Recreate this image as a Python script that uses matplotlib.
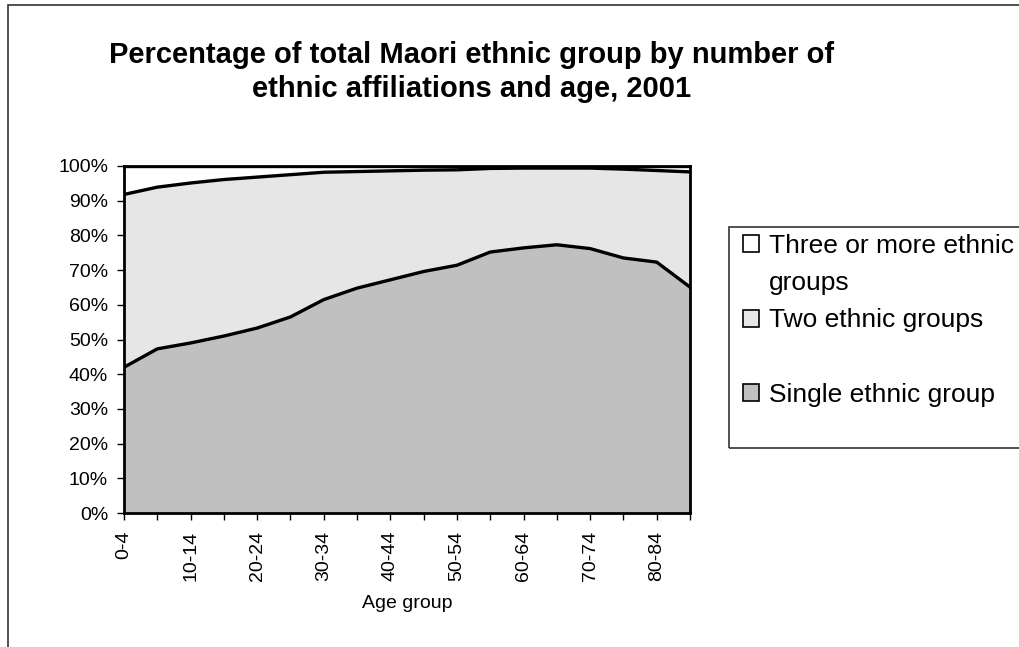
import matplotlib
matplotlib.use("Agg")
import matplotlib.pyplot as plt
from matplotlib.patches import Patch, Rectangle
from matplotlib.ticker import PercentFormatter
import numpy as np

plt.rcParams["font.family"] = ["Liberation Sans", "DejaVu Sans"]

age_groups = ["0-4", "5-9", "10-14", "15-19", "20-24", "25-29", "30-34", "35-39", "40-44",
              "45-49", "50-54", "55-59", "60-64", "65-69", "70-74", "75-79", "80-84", "85+"]
single = [42.0, 47.3, 49.0, 51.0, 53.3, 56.5, 61.5, 64.8, 67.2,
          69.6, 71.4, 75.2, 76.4, 77.3, 76.2, 73.5, 72.3, 65.1]
two = [49.8, 46.6, 46.1, 45.1, 43.5, 41.0, 36.7, 33.6, 31.4,
       29.2, 27.5, 24.1, 23.0, 22.1, 23.2, 25.6, 26.4, 33.2]
three = [8.2, 6.1, 4.9, 3.9, 3.2, 2.5, 1.8, 1.6, 1.4,
         1.2, 1.1, 0.7, 0.6, 0.6, 0.6, 0.9, 1.3, 1.7]
series_names = ["Three or more ethnic groups", "Two ethnic groups", "Single ethnic group"]

W, H = 1020, 647
fig = plt.figure(figsize=(W / 100, H / 100), dpi=100)
ax = fig.add_axes([124 / W, 1 - 513 / H, (690 - 124) / W, (513 - 166) / H])

x = np.arange(len(age_groups))
c1 = np.array(single)
c2 = c1 + np.array(two)
c3 = c2 + np.array(three)

col_single = "#c0c0c0"
col_two = "#e6e6e6"
col_three = "white"

ax.fill_between(x, 0, c1, facecolor=col_single, edgecolor="none", zorder=1)
ax.fill_between(x, c1, c2, facecolor=col_two, edgecolor="none", zorder=1)
ax.fill_between(x, c2, c3, facecolor=col_three, edgecolor="none", zorder=1)
for c in (c1, c2, c3):
    ax.plot(x, c, color="black", lw=2.4, zorder=3, solid_joinstyle="round")

ax.set_xlim(0, len(age_groups) - 1)
ax.set_ylim(0, 100)
ax.set_yticks(np.arange(0, 101, 10))
ax.yaxis.set_major_formatter(PercentFormatter(decimals=0))
ax.set_xticks(x)
ax.set_xticklabels([a if i % 2 == 0 else "" for i, a in enumerate(age_groups)], rotation=90)
ax.tick_params(axis="both", labelsize=14, length=5, width=1, direction="out")
ax.tick_params(axis="x", pad=8)
ax.tick_params(axis="y", pad=6.5)
ax.set_xlabel("Age group", fontsize=14, labelpad=10)
for s in ax.spines.values():
    s.set_linewidth(2)
    s.set_zorder(4)

fig.text(0.462, 1 - 72 / H, "Percentage of total Maori ethnic group by number of\nethnic affiliations and age, 2001",
         ha="center", va="center", fontsize=21, fontweight="bold", linespacing=1.25)

# outer chart border (left and top visible)
fig.add_artist(Rectangle((8 / W, -0.05), 1.1, 1 - 5 / H + 0.05, transform=fig.transFigure,
                         fill=False, edgecolor="#333333", lw=1.2))
# legend box, running off the right edge
fig.add_artist(Rectangle((729 / W, 1 - 448 / H), 0.4, (448 - 227) / H, transform=fig.transFigure,
                         fill=False, edgecolor="#333333", lw=1.2))

blank = Patch(facecolor="none", edgecolor="none")
handles = [Patch(facecolor=col_three, edgecolor="black", lw=1.2), blank,
           Patch(facecolor=col_two, edgecolor="black", lw=1.2), blank,
           Patch(facecolor=col_single, edgecolor="black", lw=1.2)]
rows = ["Three or more ethnic", "groups", series_names[1], " ", series_names[2]]
fig.legend(handles, rows, loc="upper left", bbox_to_anchor=(743 / W, 1 - 234 / H),
           frameon=False, fontsize=19, handlelength=0.62, handleheight=0.62,
           handletextpad=0.35, labelspacing=0.5, borderpad=0, borderaxespad=0)

fig.savefig("out.png", dpi=100)
